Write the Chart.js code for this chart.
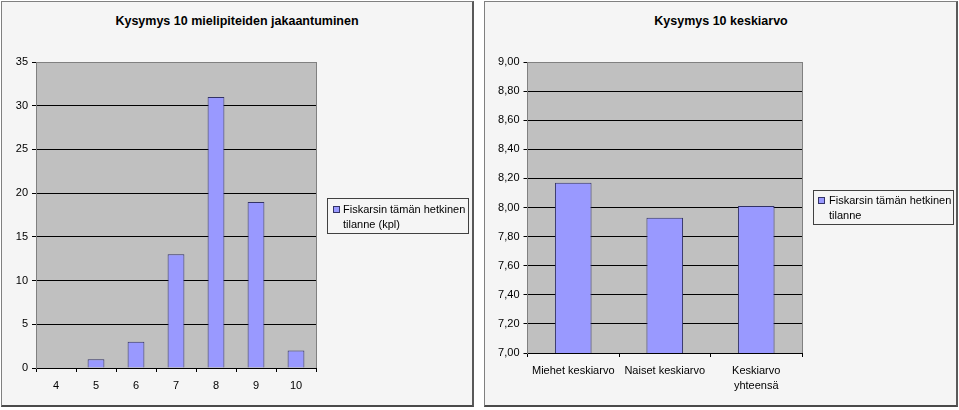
<!DOCTYPE html>
<html>
<head>
<meta charset="utf-8">
<script src="https://cdn.jsdelivr.net/npm/chart.js@4"></script>
<style>
  body { margin: 0; background: #fff; font-family: "Liberation Sans", Arial, sans-serif; }
  #page { position: relative; width: 959px; height: 410px; overflow: hidden; }
  .box {
    position: absolute; top: 1px; height: 406px; box-sizing: border-box;
    background: #f5f5f5;
    border-left: 1px solid #808080; border-top: 1px solid #808080;
    border-right: 2px solid #5a5a5a; border-bottom: 2px solid #4a4a4a;
  }
  .title { position: absolute; top: 14px; font-weight: bold; font-size: 12.5px; color: #000; text-align: center; }
  canvas { position: absolute; top: 0; }
  .legend {
    position: absolute; box-sizing: border-box; background: #f5f5f5;
    border: 1px solid #404040; font-size: 11px; color: #000; line-height: 14.5px;
  }
  .legend .swatch {
    position: absolute; width: 5px; height: 5px; background: #9999ff; border: 1px solid #333366;
  }
  .legend .text { position: absolute; width: 127px; }
</style>
</head>
<body>
<div id="page">
  <div class="box" style="left:1px; width:473px;"></div>
  <div class="box" style="left:484px; width:474px;"></div>

  <div class="title" style="left:0; width:474px;">Kysymys 10 mielipiteiden jakaantuminen</div>
  <div class="title" style="left:484px; width:474px;">Kysymys 10 keskiarvo</div>

  <canvas id="distChart" width="480" height="410" style="left:0;"></canvas>
  <canvas id="meanChart" width="479" height="410" style="left:480px;"></canvas>

  <div class="legend" style="left:327px; top:198px; width:142px; height:36px;">
    <div class="swatch" style="left:5px; top:7px;"></div>
    <div class="text" id="distLegend" style="left:15px; top:3px;"></div>
  </div>
  <div class="legend" style="left:813px; top:190px; width:141px; height:35px;">
    <div class="swatch" style="left:4px; top:6px;"></div>
    <div class="text" id="meanLegend" style="left:15px; top:2px;"></div>
  </div>
</div>

<script>
const distCategories = ['4', '5', '6', '7', '8', '9', '10'];
const distCounts = [0, 1, 3, 13, 31, 19, 2];
const distSeries = 'Fiskarsin tämän hetkinen tilanne (kpl)';

const meanCategories = ['Miehet keskiarvo', 'Naiset keskiarvo', ['Keskiarvo', 'yhteensä']];
const meanValues = [8.17, 7.93, 8.01];
const meanSeries = 'Fiskarsin tämän hetkinen tilanne';

const FONT = { family: '"Liberation Sans", Arial, sans-serif', size: 11 };

// gray plot area, gray right edge
const plotBackground = {
  id: 'plotBackground',
  beforeDraw(chart) {
    const { ctx, chartArea: a } = chart;
    ctx.save();
    ctx.fillStyle = '#c0c0c0';
    ctx.fillRect(a.left, a.top, a.right - a.left, a.bottom - a.top);
    ctx.restore();
  },
  afterDraw(chart) {
    const { ctx, chartArea: a } = chart;
    ctx.save();
    ctx.strokeStyle = '#808080';
    ctx.lineWidth = 1;
    ctx.beginPath();
    ctx.moveTo(Math.round(a.right) + 0.5, a.top);
    ctx.lineTo(Math.round(a.right) + 0.5, a.bottom);
    ctx.stroke();
    ctx.restore();
  }
};

function makeChart(id, labels, values, series, yOpts, box) {
  const ctx = document.getElementById(id).getContext('2d');
  return new Chart(ctx, {
    type: 'bar',
    data: {
      labels: labels,
      datasets: [{
        label: series,
        data: values,
        backgroundColor: '#9999ff',
        borderColor: '#333366',
        borderWidth: 1,
        categoryPercentage: 1,
        barPercentage: box.barPct,
      }],
    },
    options: {
      responsive: false,
      animation: false,
      layout: { padding: box.padding },
      plugins: {
        legend: { display: false },
        title: { display: false },
        tooltip: { enabled: false },
      },
      scales: {
        x: {
          offset: true,
          afterFit: (s) => { s.height = box.xHeight; },
          grid: {
            offset: true,
            drawOnChartArea: false,
            drawTicks: true,
            tickLength: 4,
            color: '#000',
          },
          border: { display: true, color: '#000' },
          ticks: {
            color: '#000',
            font: { ...FONT, lineHeight: 1.38 },
            padding: box.xPad,
            maxRotation: 0,
            autoSkip: false,
          },
        },
        y: {
          min: yOpts.min,
          max: yOpts.max,
          afterFit: (s) => { s.width = box.yWidth; },
          grid: {
            color: (c) => (c.tick && c.tick.value === yOpts.max ? '#808080' : '#000'),
            tickColor: '#000',
            tickLength: 4,
          },
          border: { display: true, color: '#808080' },
          ticks: {
            stepSize: yOpts.step,
            color: '#000',
            font: FONT,
            padding: 4,
            callback: yOpts.format,
          },
        },
      },
    },
    plugins: [plotBackground],
  });
}

makeChart('distChart', distCategories, distCounts, distSeries,
  { min: 0, max: 35, step: 5, format: (v) => String(v) },
  { padding: { left: 0, top: 62, right: 164, bottom: 12 }, yWidth: 36, xHeight: 30, xPad: 6, barPct: 0.42 });

makeChart('meanChart', meanCategories, meanValues, meanSeries,
  { min: 7, max: 9, step: 0.2, format: (v) => Number(v).toFixed(2).replace('.', ',') },
  { padding: { left: 0, top: 62, right: 157, bottom: 12 }, yWidth: 47.5, xHeight: 45, xPad: 6, barPct: 0.40 });

document.getElementById('distLegend').textContent = distSeries;
document.getElementById('meanLegend').textContent = meanSeries;
</script>
</body>
</html>
